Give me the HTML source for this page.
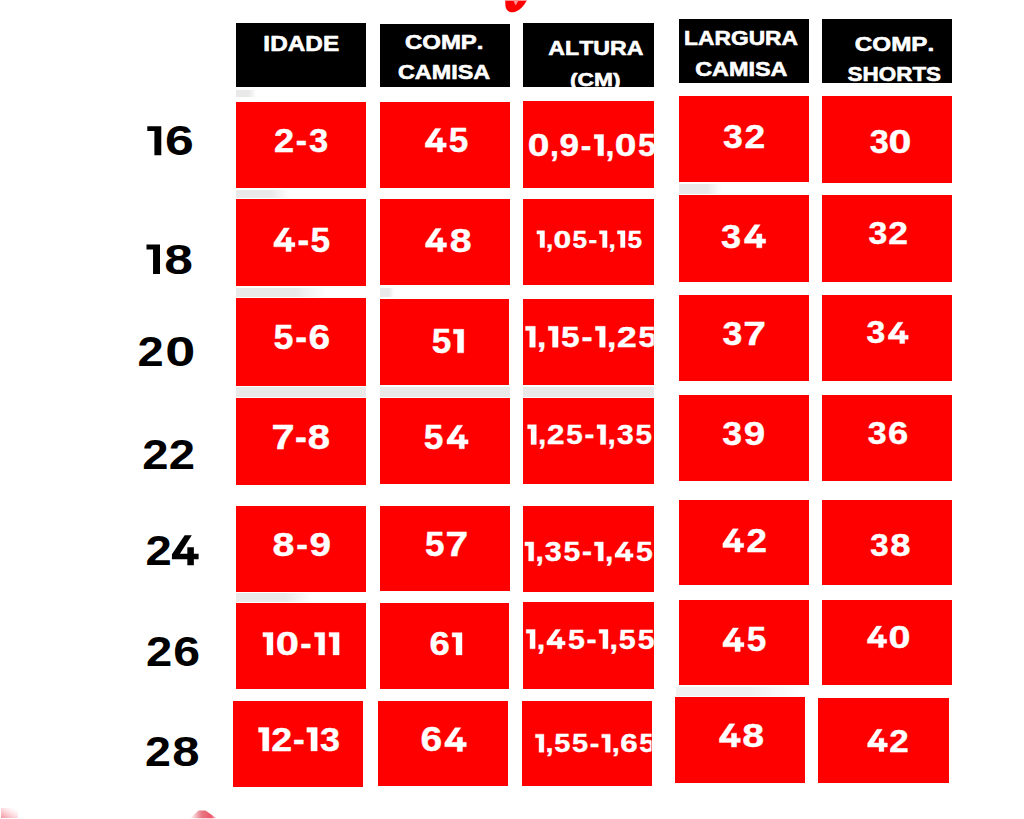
<!DOCTYPE html>
<html><head><meta charset="utf-8"><title>Tabela de medidas</title>
<style>
html,body{margin:0;padding:0;background:#fff;}
body{width:1024px;height:819px;position:relative;overflow:hidden;font-family:"Liberation Sans",sans-serif;}
.b{position:absolute;}
.g{position:absolute;filter:blur(0.5px);}
svg{position:absolute;left:0;top:0;}
text{font-family:"Liberation Sans",sans-serif;font-weight:bold;font-kerning:none;font-variant-ligatures:none;}
</style></head><body>

<div class="g" style="left:236px;top:387.2px;width:130.0px;height:9.6px;background:#e9e9e9;"></div>
<div class="g" style="left:380px;top:387.2px;width:129.5px;height:9.6px;background:#e9e9e9;"></div>
<div class="g" style="left:523.3px;top:387.2px;width:130.5px;height:9.6px;background:#e9e9e9;"></div>
<div class="g" style="left:236px;top:287.5px;width:90.0px;height:9.8px;background:linear-gradient(to right,#e9e9e9 65%,rgba(240,240,240,0));"></div>
<div class="g" style="left:380px;top:288px;width:14.0px;height:9.0px;background:linear-gradient(to right,#e9e9e9 65%,rgba(240,240,240,0));"></div>
<div class="g" style="left:236px;top:189.6px;width:54.0px;height:8.4px;background:linear-gradient(to right,#e9e9e9 65%,rgba(240,240,240,0));"></div>
<div class="g" style="left:236px;top:593px;width:76.0px;height:8.5px;background:linear-gradient(to right,#e9e9e9 65%,rgba(240,240,240,0));"></div>
<div class="g" style="left:236px;top:90px;width:20.0px;height:6.5px;background:linear-gradient(to right,#e9e9e9 65%,rgba(240,240,240,0));"></div>
<div class="g" style="left:679px;top:184.3px;width:43.0px;height:10.1px;background:linear-gradient(to right,#e9e9e9 65%,rgba(240,240,240,0));"></div>
<div class="g" style="left:676px;top:686.5px;width:124.0px;height:9.5px;background:linear-gradient(to right,#f1f1f1 60%,rgba(245,245,245,0));"></div>
<div class="b" style="left:236px;top:23px;width:130.0px;height:64.0px;background:#000;"></div>
<div class="b" style="left:380px;top:23.5px;width:130.0px;height:63.0px;background:#000;"></div>
<div class="b" style="left:523.4px;top:23.4px;width:130.6px;height:63.6px;background:#000;"></div>
<div class="b" style="left:679px;top:19px;width:130.0px;height:63.7px;background:#000;"></div>
<div class="b" style="left:822px;top:19px;width:130.4px;height:64.2px;background:#000;"></div>
<div class="b" style="left:236px;top:101.5px;width:130.3px;height:86.9px;background:#fe0000;"></div>
<div class="b" style="left:380px;top:101.7px;width:130.0px;height:86.0px;background:#fe0000;"></div>
<div class="b" style="left:523.4px;top:101.3px;width:130.6px;height:86.4px;background:#fe0000;"></div>
<div class="b" style="left:679px;top:96.2px;width:130.0px;height:86.3px;background:#fe0000;"></div>
<div class="b" style="left:822px;top:96px;width:130.4px;height:86.5px;background:#fe0000;"></div>
<div class="b" style="left:236px;top:199.2px;width:130.3px;height:86.4px;background:#fe0000;"></div>
<div class="b" style="left:380px;top:199px;width:129.5px;height:85.6px;background:#fe0000;"></div>
<div class="b" style="left:523.3px;top:199px;width:130.5px;height:85.6px;background:#fe0000;"></div>
<div class="b" style="left:679px;top:195.2px;width:130.0px;height:86.5px;background:#fe0000;"></div>
<div class="b" style="left:822px;top:195.2px;width:130.4px;height:86.5px;background:#fe0000;"></div>
<div class="b" style="left:235.7px;top:298.2px;width:130.3px;height:87.8px;background:#fe0000;"></div>
<div class="b" style="left:380px;top:299px;width:129.4px;height:85.6px;background:#fe0000;"></div>
<div class="b" style="left:523.3px;top:299px;width:130.5px;height:85.6px;background:#fe0000;"></div>
<div class="b" style="left:679px;top:294.6px;width:130.0px;height:86.4px;background:#fe0000;"></div>
<div class="b" style="left:822px;top:294.6px;width:130.4px;height:86.4px;background:#fe0000;"></div>
<div class="b" style="left:235.7px;top:397.6px;width:130.3px;height:87.0px;background:#fe0000;"></div>
<div class="b" style="left:380px;top:397.6px;width:130.0px;height:86.4px;background:#fe0000;"></div>
<div class="b" style="left:523.3px;top:397.6px;width:130.5px;height:86.4px;background:#fe0000;"></div>
<div class="b" style="left:679px;top:394.6px;width:130.4px;height:86.4px;background:#fe0000;"></div>
<div class="b" style="left:822px;top:394.6px;width:130.4px;height:86.4px;background:#fe0000;"></div>
<div class="b" style="left:235.7px;top:505.5px;width:130.3px;height:86.5px;background:#fe0000;"></div>
<div class="b" style="left:380px;top:505.6px;width:130.0px;height:85.6px;background:#fe0000;"></div>
<div class="b" style="left:523.3px;top:505.6px;width:130.5px;height:86.6px;background:#fe0000;"></div>
<div class="b" style="left:679px;top:499.9px;width:130.4px;height:85.6px;background:#fe0000;"></div>
<div class="b" style="left:822px;top:499.9px;width:130.4px;height:85.6px;background:#fe0000;"></div>
<div class="b" style="left:235.7px;top:603.2px;width:130.3px;height:85.8px;background:#fe0000;"></div>
<div class="b" style="left:380px;top:603.3px;width:129.4px;height:85.3px;background:#fe0000;"></div>
<div class="b" style="left:523.3px;top:602.3px;width:130.5px;height:86.3px;background:#fe0000;"></div>
<div class="b" style="left:679px;top:599.9px;width:129.8px;height:85.6px;background:#fe0000;"></div>
<div class="b" style="left:822px;top:599.9px;width:130.4px;height:85.6px;background:#fe0000;"></div>
<div class="b" style="left:232.8px;top:701.1px;width:129.8px;height:85.9px;background:#fe0000;"></div>
<div class="b" style="left:378.3px;top:700.6px;width:129.4px;height:85.7px;background:#fe0000;"></div>
<div class="b" style="left:522px;top:700.6px;width:129.5px;height:85.7px;background:#fe0000;"></div>
<div class="b" style="left:674.6px;top:696.7px;width:130.4px;height:86.4px;background:#fe0000;"></div>
<div class="b" style="left:818.2px;top:697.6px;width:130.4px;height:85.5px;background:#fe0000;"></div>
<svg width="1024" height="819" viewBox="0 0 1024 819">
<defs>
<clipPath id="c0"><rect x="523.4" y="101.3" width="130.6" height="86.4"/></clipPath>
<clipPath id="c1"><rect x="523.3" y="199" width="130.5" height="85.6"/></clipPath>
<clipPath id="c2"><rect x="523.3" y="299" width="130.5" height="85.6"/></clipPath>
<clipPath id="c3"><rect x="523.3" y="397.6" width="130.5" height="86.4"/></clipPath>
<clipPath id="c4"><rect x="523.3" y="505.6" width="130.5" height="86.6"/></clipPath>
<clipPath id="c5"><rect x="523.3" y="602.3" width="130.5" height="86.3"/></clipPath>
<clipPath id="c6"><rect x="522" y="700.6" width="129.5" height="85.7"/></clipPath>
<clipPath id="ch"><rect x="523.4" y="23.4" width="130.6" height="63.6"/></clipPath>
<linearGradient id="gl" x1="0" y1="1" x2="1" y2="0"><stop offset="0" stop-color="#f07080" stop-opacity="0.75"/><stop offset="0.7" stop-color="#f8a0a8" stop-opacity="0.15"/><stop offset="1" stop-color="#ffffff" stop-opacity="0"/></linearGradient><linearGradient id="gr" x1="0" x2="1"><stop offset="0" stop-color="#e04858" stop-opacity="0"/><stop offset="0.45" stop-color="#e04858" stop-opacity="0.75"/><stop offset="0.8" stop-color="#e83850" stop-opacity="0.85"/><stop offset="1" stop-color="#e83850" stop-opacity="0.2"/></linearGradient>
</defs>
<path d="M505.3 0.8 L526.6 0.8 C524 5.5 519.5 11.6 513 12.2 C507.8 12.6 505.8 9.5 505.4 5.5 Z" fill="#fe0000"/>
<path d="M513.4 0.8 L518.4 0.8 L515.6 5.6 Z" fill="#ff9090"/>
<rect x="505" y="0" width="22" height="0.9" fill="#ff8f8f"/>
<rect x="1" y="808" width="17" height="10" fill="url(#gl)"/>
<path d="M190 818.3 L198.5 810.6 L205.5 810.4 L216.5 818.3 Z" fill="url(#gr)"/>
<g><text transform="translate(263.37 51.10) scale(1.1322 1)" font-size="21.51" fill="#fff" stroke="#fff" stroke-width="0.6" stroke-linejoin="round">IDADE</text></g>
<g><text transform="translate(404.92 49.01) scale(1.2220 1)" font-size="19.63" fill="#fff" stroke="#fff" stroke-width="0.6" stroke-linejoin="round">COMP.</text></g>
<g><text transform="translate(397.94 79.11) scale(1.1831 1)" font-size="19.77" fill="#fff" stroke="#fff" stroke-width="0.6" stroke-linejoin="round">CAMISA</text></g>
<g><text transform="translate(548.32 54.70) scale(1.1209 1)" font-size="20.64" fill="#fff" stroke="#fff" stroke-width="0.6" stroke-linejoin="round">ALTURA</text></g>
<g clip-path="url(#ch)"><text transform="translate(569.96 86.12) scale(1.2236 1)" font-size="18.64" fill="#fff" stroke="#fff" stroke-width="0.6" stroke-linejoin="round">(CM)</text></g>
<g><text transform="translate(684.07 45.00) scale(1.1214 1)" font-size="20.34" fill="#fff" stroke="#fff" stroke-width="0.6" stroke-linejoin="round">LARGURA</text></g>
<g><text transform="translate(695.14 75.51) scale(1.2016 1)" font-size="19.49" fill="#fff" stroke="#fff" stroke-width="0.6" stroke-linejoin="round">CAMISA</text></g>
<g><text transform="translate(854.81 51.10) scale(1.1756 1)" font-size="20.62" fill="#fff" stroke="#fff" stroke-width="0.6" stroke-linejoin="round">COMP.</text></g>
<g><text transform="translate(847.55 81.00) scale(1.0884 1)" font-size="20.62" fill="#fff" stroke="#fff" stroke-width="0.6" stroke-linejoin="round">SHORTS</text></g>
<g><text transform="translate(274.05 151.63) scale(1.1052 1)" font-size="32.70" fill="#fff" stroke="#fff" stroke-width="0.4" stroke-linejoin="round">2</text><text transform="translate(295.65 151.63) scale(1.0339 1)" font-size="32.70" fill="#fff" stroke="#fff" stroke-width="0.4" stroke-linejoin="round">-</text><text transform="translate(309.04 151.63) scale(1.0562 1)" font-size="32.70" fill="#fff" stroke="#fff" stroke-width="0.4" stroke-linejoin="round">3</text></g>
<g><path d="M435.25 128.40 L440.86 128.40 L431.51 142.89 L437.35 142.89 L437.35 137.83 L442.49 137.83 L442.49 142.89 L446.23 142.89 L446.23 147.25 L442.49 147.25 L442.49 151.97 L437.35 151.97 L437.35 147.25 L425.20 147.25 L425.20 143.25 Z" fill="#fff" stroke="#fff" stroke-width="0.4" stroke-linejoin="round"/><text transform="translate(448.67 151.97) scale(1.0237 1)" font-size="34.25" fill="#fff" stroke="#fff" stroke-width="0.4" stroke-linejoin="round">5</text></g>
<g clip-path="url(#c0)"><text transform="translate(527.86 155.70) scale(1.2658 1)" font-size="30.79" fill="#fff" stroke="#fff" stroke-width="0.4" stroke-linejoin="round">0</text><text transform="translate(549.91 155.70) scale(1.0396 1)" font-size="30.79" fill="#fff" stroke="#fff" stroke-width="0.4" stroke-linejoin="round">,</text><text transform="translate(559.58 155.70) scale(1.1405 1)" font-size="30.79" fill="#fff" stroke="#fff" stroke-width="0.4" stroke-linejoin="round">9</text><text transform="translate(580.71 155.70) scale(1.0321 1)" font-size="30.79" fill="#fff" stroke="#fff" stroke-width="0.4" stroke-linejoin="round">-</text><path d="M594.16 134.52H603.54V155.70H597.87V138.66H594.16Z" fill="#fff" stroke="#fff" stroke-width="0.4" stroke-linejoin="round"/><text transform="translate(605.51 155.70) scale(1.0396 1)" font-size="30.79" fill="#fff" stroke="#fff" stroke-width="0.4" stroke-linejoin="round">,</text><text transform="translate(614.86 155.70) scale(1.2658 1)" font-size="30.79" fill="#fff" stroke="#fff" stroke-width="0.4" stroke-linejoin="round">0</text><text transform="translate(638.10 155.70) scale(1.0391 1)" font-size="30.79" fill="#fff" stroke="#fff" stroke-width="0.4" stroke-linejoin="round">5</text></g>
<g><text transform="translate(723.08 148.42) scale(1.0562 1)" font-size="33.69" fill="#fff" stroke="#fff" stroke-width="0.4" stroke-linejoin="round">3</text><text transform="translate(744.38 148.42) scale(1.1052 1)" font-size="33.69" fill="#fff" stroke="#fff" stroke-width="0.4" stroke-linejoin="round">2</text></g>
<g><text transform="translate(869.71 152.54) scale(1.0562 1)" font-size="32.42" fill="#fff" stroke="#fff" stroke-width="0.4" stroke-linejoin="round">3</text><text transform="translate(888.42 152.54) scale(1.2680 1)" font-size="32.42" fill="#fff" stroke="#fff" stroke-width="0.4" stroke-linejoin="round">0</text></g>
<g><path d="M283.89 227.90 L289.52 227.90 L280.14 242.45 L286.00 242.45 L286.00 237.37 L291.17 237.37 L291.17 242.45 L294.92 242.45 L294.92 246.83 L291.17 246.83 L291.17 251.56 L286.00 251.56 L286.00 246.83 L273.80 246.83 L273.80 242.81 Z" fill="#fff" stroke="#fff" stroke-width="0.4" stroke-linejoin="round"/><text transform="translate(297.44 251.56) scale(1.0168 1)" font-size="34.40" fill="#fff" stroke="#fff" stroke-width="0.4" stroke-linejoin="round">-</text><text transform="translate(310.50 251.56) scale(1.0237 1)" font-size="34.40" fill="#fff" stroke="#fff" stroke-width="0.4" stroke-linejoin="round">5</text></g>
<g><path d="M435.57 228.55 L441.18 228.55 L431.82 242.83 L437.67 242.83 L437.67 237.84 L442.82 237.84 L442.82 242.83 L446.57 242.83 L446.57 247.13 L442.82 247.13 L442.82 251.77 L437.67 251.77 L437.67 247.13 L425.50 247.13 L425.50 243.18 Z" fill="#fff" stroke="#fff" stroke-width="0.4" stroke-linejoin="round"/><text transform="translate(449.86 251.77) scale(1.1637 1)" font-size="33.76" fill="#fff" stroke="#fff" stroke-width="0.4" stroke-linejoin="round">8</text></g>
<g clip-path="url(#c1)"><path d="M536.90 230.75H544.55V247.56H540.05V234.04H536.90Z" fill="#fff" stroke="#fff" stroke-width="0.4" stroke-linejoin="round"/><text transform="translate(546.06 247.56) scale(1.0688 1)" font-size="24.43" fill="#fff" stroke="#fff" stroke-width="0.4" stroke-linejoin="round">,</text><text transform="translate(553.60 247.56) scale(1.3013 1)" font-size="24.43" fill="#fff" stroke="#fff" stroke-width="0.4" stroke-linejoin="round">0</text><text transform="translate(572.47 247.56) scale(1.0683 1)" font-size="24.43" fill="#fff" stroke="#fff" stroke-width="0.4" stroke-linejoin="round">5</text><text transform="translate(588.53 247.56) scale(1.0610 1)" font-size="24.43" fill="#fff" stroke="#fff" stroke-width="0.4" stroke-linejoin="round">-</text><path d="M599.41 230.75H607.06V247.56H602.57V234.04H599.41Z" fill="#fff" stroke="#fff" stroke-width="0.4" stroke-linejoin="round"/><text transform="translate(608.58 247.56) scale(1.0688 1)" font-size="24.43" fill="#fff" stroke="#fff" stroke-width="0.4" stroke-linejoin="round">,</text><path d="M617.38 230.75H625.03V247.56H620.53V234.04H617.38Z" fill="#fff" stroke="#fff" stroke-width="0.4" stroke-linejoin="round"/><text transform="translate(627.51 247.56) scale(1.0683 1)" font-size="24.43" fill="#fff" stroke="#fff" stroke-width="0.4" stroke-linejoin="round">5</text></g>
<g><text transform="translate(721.07 247.82) scale(1.0710 1)" font-size="33.69" fill="#fff" stroke="#fff" stroke-width="0.4" stroke-linejoin="round">3</text><path d="M754.56 224.65 L760.25 224.65 L750.77 238.90 L756.70 238.90 L756.70 233.92 L761.91 233.92 L761.91 238.90 L765.70 238.90 L765.70 243.19 L761.91 243.19 L761.91 247.82 L756.70 247.82 L756.70 243.19 L744.37 243.19 L744.37 239.25 Z" fill="#fff" stroke="#fff" stroke-width="0.4" stroke-linejoin="round"/></g>
<g><text transform="translate(868.52 244.24) scale(1.0562 1)" font-size="32.00" fill="#fff" stroke="#fff" stroke-width="0.4" stroke-linejoin="round">3</text><text transform="translate(888.15 244.24) scale(1.1052 1)" font-size="32.00" fill="#fff" stroke="#fff" stroke-width="0.4" stroke-linejoin="round">2</text></g>
<g><text transform="translate(273.50 349.36) scale(1.0388 1)" font-size="34.46" fill="#fff" stroke="#fff" stroke-width="0.4" stroke-linejoin="round">5</text><text transform="translate(295.31 349.36) scale(1.0317 1)" font-size="34.46" fill="#fff" stroke="#fff" stroke-width="0.4" stroke-linejoin="round">-</text><text transform="translate(308.59 349.36) scale(1.1278 1)" font-size="34.46" fill="#fff" stroke="#fff" stroke-width="0.4" stroke-linejoin="round">6</text></g>
<g><text transform="translate(431.72 352.87) scale(1.0237 1)" font-size="34.25" fill="#fff" stroke="#fff" stroke-width="0.4" stroke-linejoin="round">5</text><path d="M453.42 329.30H463.70V352.87H457.49V333.84H453.42Z" fill="#fff" stroke="#fff" stroke-width="0.4" stroke-linejoin="round"/></g>
<g clip-path="url(#c2)"><path d="M525.50 326.31H535.30V347.20H529.71V330.40H525.50Z" fill="#fff" stroke="#fff" stroke-width="0.4" stroke-linejoin="round"/><text transform="translate(537.12 347.20) scale(1.1022 1)" font-size="30.37" fill="#fff" stroke="#fff" stroke-width="0.4" stroke-linejoin="round">,</text><path d="M548.26 326.31H558.07V347.20H552.48V330.40H548.26Z" fill="#fff" stroke="#fff" stroke-width="0.4" stroke-linejoin="round"/><text transform="translate(561.12 347.20) scale(1.1017 1)" font-size="30.37" fill="#fff" stroke="#fff" stroke-width="0.4" stroke-linejoin="round">5</text><text transform="translate(581.59 347.20) scale(1.0942 1)" font-size="30.37" fill="#fff" stroke="#fff" stroke-width="0.4" stroke-linejoin="round">-</text><path d="M595.41 326.31H605.21V347.20H599.62V330.40H595.41Z" fill="#fff" stroke="#fff" stroke-width="0.4" stroke-linejoin="round"/><text transform="translate(607.02 347.20) scale(1.1022 1)" font-size="30.37" fill="#fff" stroke="#fff" stroke-width="0.4" stroke-linejoin="round">,</text><text transform="translate(616.94 347.20) scale(1.1697 1)" font-size="30.37" fill="#fff" stroke="#fff" stroke-width="0.4" stroke-linejoin="round">2</text><text transform="translate(638.33 347.20) scale(1.1017 1)" font-size="30.37" fill="#fff" stroke="#fff" stroke-width="0.4" stroke-linejoin="round">5</text></g>
<g><text transform="translate(722.38 345.42) scale(1.0562 1)" font-size="33.69" fill="#fff" stroke="#fff" stroke-width="0.4" stroke-linejoin="round">3</text><text transform="translate(743.23 345.42) scale(1.2096 1)" font-size="33.69" fill="#fff" stroke="#fff" stroke-width="0.4" stroke-linejoin="round">7</text></g>
<g><text transform="translate(866.53 343.45) scale(1.0937 1)" font-size="30.87" fill="#fff" stroke="#fff" stroke-width="0.4" stroke-linejoin="round">3</text><path d="M897.78 322.22 L903.10 322.22 L894.23 335.28 L899.77 335.28 L899.77 330.71 L904.65 330.71 L904.65 335.28 L908.20 335.28 L908.20 339.21 L904.65 339.21 L904.65 343.45 L899.77 343.45 L899.77 339.21 L888.24 339.21 L888.24 335.60 Z" fill="#fff" stroke="#fff" stroke-width="0.4" stroke-linejoin="round"/></g>
<g><text transform="translate(271.61 448.96) scale(1.2071 1)" font-size="34.46" fill="#fff" stroke="#fff" stroke-width="0.4" stroke-linejoin="round">7</text><text transform="translate(295.08 448.96) scale(1.0317 1)" font-size="34.46" fill="#fff" stroke="#fff" stroke-width="0.4" stroke-linejoin="round">-</text><text transform="translate(307.77 448.96) scale(1.1617 1)" font-size="34.46" fill="#fff" stroke="#fff" stroke-width="0.4" stroke-linejoin="round">8</text></g>
<g><text transform="translate(423.82 448.77) scale(1.0285 1)" font-size="34.25" fill="#fff" stroke="#fff" stroke-width="0.4" stroke-linejoin="round">5</text><path d="M457.07 425.20 L462.70 425.20 L453.31 439.69 L459.18 439.69 L459.18 434.63 L464.34 434.63 L464.34 439.69 L468.10 439.69 L468.10 444.05 L464.34 444.05 L464.34 448.77 L459.18 448.77 L459.18 444.05 L446.97 444.05 L446.97 440.05 Z" fill="#fff" stroke="#fff" stroke-width="0.4" stroke-linejoin="round"/></g>
<g clip-path="url(#c3)"><path d="M527.60 424.79H536.29V444.38H531.03V428.63H527.60Z" fill="#fff" stroke="#fff" stroke-width="0.4" stroke-linejoin="round"/><text transform="translate(538.10 444.38) scale(1.0414 1)" font-size="28.47" fill="#fff" stroke="#fff" stroke-width="0.4" stroke-linejoin="round">,</text><text transform="translate(547.08 444.38) scale(1.1052 1)" font-size="28.47" fill="#fff" stroke="#fff" stroke-width="0.4" stroke-linejoin="round">2</text><text transform="translate(566.23 444.38) scale(1.0409 1)" font-size="28.47" fill="#fff" stroke="#fff" stroke-width="0.4" stroke-linejoin="round">5</text><text transform="translate(584.56 444.38) scale(1.0339 1)" font-size="28.47" fill="#fff" stroke="#fff" stroke-width="0.4" stroke-linejoin="round">-</text><path d="M597.01 424.79H605.70V444.38H600.44V428.63H597.01Z" fill="#fff" stroke="#fff" stroke-width="0.4" stroke-linejoin="round"/><text transform="translate(607.51 444.38) scale(1.0414 1)" font-size="28.47" fill="#fff" stroke="#fff" stroke-width="0.4" stroke-linejoin="round">,</text><text transform="translate(616.89 444.38) scale(1.0562 1)" font-size="28.47" fill="#fff" stroke="#fff" stroke-width="0.4" stroke-linejoin="round">3</text><text transform="translate(635.44 444.38) scale(1.0409 1)" font-size="28.47" fill="#fff" stroke="#fff" stroke-width="0.4" stroke-linejoin="round">5</text></g>
<g><text transform="translate(722.28 444.82) scale(1.0562 1)" font-size="33.69" fill="#fff" stroke="#fff" stroke-width="0.4" stroke-linejoin="round">3</text><text transform="translate(743.72 444.82) scale(1.1425 1)" font-size="33.69" fill="#fff" stroke="#fff" stroke-width="0.4" stroke-linejoin="round">9</text></g>
<g><text transform="translate(867.72 443.74) scale(1.0562 1)" font-size="32.14" fill="#fff" stroke="#fff" stroke-width="0.4" stroke-linejoin="round">3</text><text transform="translate(888.11 443.74) scale(1.1301 1)" font-size="32.14" fill="#fff" stroke="#fff" stroke-width="0.4" stroke-linejoin="round">6</text></g>
<g><text transform="translate(272.55 555.97) scale(1.1617 1)" font-size="33.90" fill="#fff" stroke="#fff" stroke-width="0.4" stroke-linejoin="round">8</text><text transform="translate(296.25 555.97) scale(1.0317 1)" font-size="33.90" fill="#fff" stroke="#fff" stroke-width="0.4" stroke-linejoin="round">-</text><text transform="translate(309.54 555.97) scale(1.1401 1)" font-size="33.90" fill="#fff" stroke="#fff" stroke-width="0.4" stroke-linejoin="round">9</text></g>
<g><text transform="translate(425.02 555.77) scale(1.0237 1)" font-size="34.25" fill="#fff" stroke="#fff" stroke-width="0.4" stroke-linejoin="round">5</text><text transform="translate(445.53 555.77) scale(1.1896 1)" font-size="34.25" fill="#fff" stroke="#fff" stroke-width="0.4" stroke-linejoin="round">7</text></g>
<g clip-path="url(#c4)"><path d="M524.90 541.98H533.73V560.99H528.63V545.71H524.90Z" fill="#fff" stroke="#fff" stroke-width="0.4" stroke-linejoin="round"/><text transform="translate(535.41 560.99) scale(1.0908 1)" font-size="27.63" fill="#fff" stroke="#fff" stroke-width="0.4" stroke-linejoin="round">,</text><text transform="translate(544.79 560.99) scale(1.1063 1)" font-size="27.63" fill="#fff" stroke="#fff" stroke-width="0.4" stroke-linejoin="round">3</text><text transform="translate(563.48 560.99) scale(1.0903 1)" font-size="27.63" fill="#fff" stroke="#fff" stroke-width="0.4" stroke-linejoin="round">5</text><text transform="translate(581.95 560.99) scale(1.0829 1)" font-size="27.63" fill="#fff" stroke="#fff" stroke-width="0.4" stroke-linejoin="round">-</text><path d="M594.43 541.98H603.26V560.99H598.17V545.71H594.43Z" fill="#fff" stroke="#fff" stroke-width="0.4" stroke-linejoin="round"/><text transform="translate(604.94 560.99) scale(1.0908 1)" font-size="27.63" fill="#fff" stroke="#fff" stroke-width="0.4" stroke-linejoin="round">,</text><path d="M623.65 541.98 L628.47 541.98 L620.44 553.67 L625.46 553.67 L625.46 549.59 L629.88 549.59 L629.88 553.67 L633.09 553.67 L633.09 557.19 L629.88 557.19 L629.88 560.99 L625.46 560.99 L625.46 557.19 L615.02 557.19 L615.02 553.96 Z" fill="#fff" stroke="#fff" stroke-width="0.4" stroke-linejoin="round"/><text transform="translate(635.89 560.99) scale(1.0903 1)" font-size="27.63" fill="#fff" stroke="#fff" stroke-width="0.4" stroke-linejoin="round">5</text></g>
<g><path d="M732.82 528.85 L738.36 528.85 L729.13 543.15 L734.90 543.15 L734.90 538.15 L739.98 538.15 L739.98 543.15 L743.67 543.15 L743.67 547.45 L739.98 547.45 L739.98 552.10 L734.90 552.10 L734.90 547.45 L722.90 547.45 L722.90 543.50 Z" fill="#fff" stroke="#fff" stroke-width="0.4" stroke-linejoin="round"/><text transform="translate(746.53 552.10) scale(1.0877 1)" font-size="33.80" fill="#fff" stroke="#fff" stroke-width="0.4" stroke-linejoin="round">2</text></g>
<g><text transform="translate(870.24 556.15) scale(1.0562 1)" font-size="31.29" fill="#fff" stroke="#fff" stroke-width="0.4" stroke-linejoin="round">3</text><text transform="translate(890.16 556.15) scale(1.1641 1)" font-size="31.29" fill="#fff" stroke="#fff" stroke-width="0.4" stroke-linejoin="round">8</text></g>
<g><path d="M262.90 632.43H272.95V654.88H266.94V636.82H262.90Z" fill="#fff" stroke="#fff" stroke-width="0.4" stroke-linejoin="round"/><text transform="translate(275.68 654.88) scale(1.2799 1)" font-size="32.63" fill="#fff" stroke="#fff" stroke-width="0.4" stroke-linejoin="round">0</text><text transform="translate(300.25 654.88) scale(1.0435 1)" font-size="32.63" fill="#fff" stroke="#fff" stroke-width="0.4" stroke-linejoin="round">-</text><path d="M314.62 632.43H324.66V654.88H318.66V636.82H314.62Z" fill="#fff" stroke="#fff" stroke-width="0.4" stroke-linejoin="round"/><path d="M329.05 632.43H339.10V654.88H333.09V636.82H329.05Z" fill="#fff" stroke="#fff" stroke-width="0.4" stroke-linejoin="round"/></g>
<g><text transform="translate(429.56 654.88) scale(1.1278 1)" font-size="32.34" fill="#fff" stroke="#fff" stroke-width="0.4" stroke-linejoin="round">6</text><path d="M452.15 632.63H462.00V654.88H456.05V636.98H452.15Z" fill="#fff" stroke="#fff" stroke-width="0.4" stroke-linejoin="round"/></g>
<g clip-path="url(#c5)"><path d="M526.20 629.50H535.12V648.73H530.05V633.21H526.20Z" fill="#fff" stroke="#fff" stroke-width="0.4" stroke-linejoin="round"/><text transform="translate(536.75 648.73) scale(1.0890 1)" font-size="27.95" fill="#fff" stroke="#fff" stroke-width="0.4" stroke-linejoin="round">,</text><path d="M555.60 629.50 L560.46 629.50 L552.35 641.32 L557.42 641.32 L557.42 637.19 L561.88 637.19 L561.88 641.32 L565.12 641.32 L565.12 644.88 L561.88 644.88 L561.88 648.73 L557.42 648.73 L557.42 644.88 L546.88 644.88 L546.88 641.61 Z" fill="#fff" stroke="#fff" stroke-width="0.4" stroke-linejoin="round"/><text transform="translate(567.89 648.73) scale(1.0885 1)" font-size="27.95" fill="#fff" stroke="#fff" stroke-width="0.4" stroke-linejoin="round">5</text><text transform="translate(586.49 648.73) scale(1.0811 1)" font-size="27.95" fill="#fff" stroke="#fff" stroke-width="0.4" stroke-linejoin="round">-</text><path d="M599.05 629.50H607.96V648.73H602.89V633.21H599.05Z" fill="#fff" stroke="#fff" stroke-width="0.4" stroke-linejoin="round"/><text transform="translate(609.60 648.73) scale(1.0890 1)" font-size="27.95" fill="#fff" stroke="#fff" stroke-width="0.4" stroke-linejoin="round">,</text><text transform="translate(618.79 648.73) scale(1.0885 1)" font-size="27.95" fill="#fff" stroke="#fff" stroke-width="0.4" stroke-linejoin="round">5</text><text transform="translate(637.63 648.73) scale(1.0885 1)" font-size="27.95" fill="#fff" stroke="#fff" stroke-width="0.4" stroke-linejoin="round">5</text></g>
<g><path d="M732.95 627.90 L738.56 627.90 L729.21 642.39 L735.05 642.39 L735.05 637.33 L740.19 637.33 L740.19 642.39 L743.93 642.39 L743.93 646.75 L740.19 646.75 L740.19 651.47 L735.05 651.47 L735.05 646.75 L722.90 646.75 L722.90 642.75 Z" fill="#fff" stroke="#fff" stroke-width="0.4" stroke-linejoin="round"/><text transform="translate(746.67 651.47) scale(1.0237 1)" font-size="34.25" fill="#fff" stroke="#fff" stroke-width="0.4" stroke-linejoin="round">5</text></g>
<g><path d="M876.59 626.12 L881.78 626.12 L873.13 639.33 L878.54 639.33 L878.54 634.71 L883.29 634.71 L883.29 639.33 L886.75 639.33 L886.75 643.30 L883.29 643.30 L883.29 647.60 L878.54 647.60 L878.54 643.30 L867.30 643.30 L867.30 639.65 Z" fill="#fff" stroke="#fff" stroke-width="0.4" stroke-linejoin="round"/><text transform="translate(888.45 647.60) scale(1.2654 1)" font-size="31.21" fill="#fff" stroke="#fff" stroke-width="0.4" stroke-linejoin="round">0</text></g>
<g><path d="M258.50 727.55H268.86V750.92H262.60V732.13H258.50Z" fill="#fff" stroke="#fff" stroke-width="0.4" stroke-linejoin="round"/><text transform="translate(271.22 750.92) scale(1.1052 1)" font-size="33.97" fill="#fff" stroke="#fff" stroke-width="0.4" stroke-linejoin="round">2</text><text transform="translate(292.89 750.92) scale(1.0339 1)" font-size="33.97" fill="#fff" stroke="#fff" stroke-width="0.4" stroke-linejoin="round">-</text><path d="M306.84 727.55H317.20V750.92H310.94V732.13H306.84Z" fill="#fff" stroke="#fff" stroke-width="0.4" stroke-linejoin="round"/><text transform="translate(320.04 750.92) scale(1.0562 1)" font-size="33.97" fill="#fff" stroke="#fff" stroke-width="0.4" stroke-linejoin="round">3</text></g>
<g><text transform="translate(420.47 751.46) scale(1.1278 1)" font-size="34.60" fill="#fff" stroke="#fff" stroke-width="0.4" stroke-linejoin="round">6</text><path d="M455.04 727.65 L460.79 727.65 L451.21 742.30 L457.20 742.30 L457.20 737.18 L462.47 737.18 L462.47 742.30 L466.30 742.30 L466.30 746.70 L462.47 746.70 L462.47 751.46 L457.20 751.46 L457.20 746.70 L444.74 746.70 L444.74 742.65 Z" fill="#fff" stroke="#fff" stroke-width="0.4" stroke-linejoin="round"/></g>
<g clip-path="url(#c6)"><path d="M535.40 734.17H543.87V752.24H539.04V737.70H535.40Z" fill="#fff" stroke="#fff" stroke-width="0.4" stroke-linejoin="round"/><text transform="translate(545.44 752.24) scale(1.1008 1)" font-size="26.27" fill="#fff" stroke="#fff" stroke-width="0.4" stroke-linejoin="round">,</text><text transform="translate(554.19 752.24) scale(1.1003 1)" font-size="26.27" fill="#fff" stroke="#fff" stroke-width="0.4" stroke-linejoin="round">5</text><text transform="translate(572.11 752.24) scale(1.1003 1)" font-size="26.27" fill="#fff" stroke="#fff" stroke-width="0.4" stroke-linejoin="round">5</text><text transform="translate(589.79 752.24) scale(1.0929 1)" font-size="26.27" fill="#fff" stroke="#fff" stroke-width="0.4" stroke-linejoin="round">-</text><path d="M601.73 734.17H610.21V752.24H605.37V737.70H601.73Z" fill="#fff" stroke="#fff" stroke-width="0.4" stroke-linejoin="round"/><text transform="translate(611.78 752.24) scale(1.1008 1)" font-size="26.27" fill="#fff" stroke="#fff" stroke-width="0.4" stroke-linejoin="round">,</text><text transform="translate(620.26 752.24) scale(1.1946 1)" font-size="26.27" fill="#fff" stroke="#fff" stroke-width="0.4" stroke-linejoin="round">6</text><text transform="translate(639.23 752.24) scale(1.1003 1)" font-size="26.27" fill="#fff" stroke="#fff" stroke-width="0.4" stroke-linejoin="round">5</text></g>
<g><path d="M729.35 723.85 L734.96 723.85 L725.61 738.13 L731.45 738.13 L731.45 733.14 L736.59 733.14 L736.59 738.13 L740.33 738.13 L740.33 742.43 L736.59 742.43 L736.59 747.07 L731.45 747.07 L731.45 742.43 L719.30 742.43 L719.30 738.48 Z" fill="#fff" stroke="#fff" stroke-width="0.4" stroke-linejoin="round"/><text transform="translate(742.20 747.07) scale(1.1617 1)" font-size="33.76" fill="#fff" stroke="#fff" stroke-width="0.4" stroke-linejoin="round">8</text></g>
<g><path d="M877.06 729.33 L882.34 729.33 L873.54 742.96 L879.04 742.96 L879.04 738.20 L883.88 738.20 L883.88 742.96 L887.40 742.96 L887.40 747.07 L883.88 747.07 L883.88 751.50 L879.04 751.50 L879.04 747.07 L867.60 747.07 L867.60 743.30 Z" fill="#fff" stroke="#fff" stroke-width="0.4" stroke-linejoin="round"/><text transform="translate(889.21 751.50) scale(1.0877 1)" font-size="32.22" fill="#fff" stroke="#fff" stroke-width="0.4" stroke-linejoin="round">2</text></g>
<g><path d="M147.30 126.13H161.28V155.19H154.40V130.92H147.30Z" fill="#000"/><text transform="translate(165.07 155.19) scale(1.2264 1)" font-size="42.23" fill="#000">6</text></g>
<g><path d="M146.50 244.54H160.00V273.98H153.04V249.39H146.50Z" fill="#000"/><text transform="translate(164.13 273.98) scale(1.2041 1)" font-size="42.80" fill="#000">8</text></g>
<g><text transform="translate(137.47 365.73) scale(1.1059 1)" font-size="42.58" fill="#000">2</text><text transform="translate(165.37 365.73) scale(1.2688 1)" font-size="42.58" fill="#000">0</text></g>
<g><text transform="translate(142.36 469.40) scale(1.0877 1)" font-size="43.39" fill="#000">2</text><text transform="translate(168.84 469.40) scale(1.0877 1)" font-size="43.39" fill="#000">2</text></g>
<g><text transform="translate(145.56 565.20) scale(1.0877 1)" font-size="43.39" fill="#000">2</text><path d="M184.68 535.34 L191.79 535.34 L179.94 553.71 L187.34 553.71 L187.34 547.29 L193.86 547.29 L193.86 553.71 L198.60 553.71 L198.60 559.23 L193.86 559.23 L193.86 565.20 L187.34 565.20 L187.34 559.23 L171.94 559.23 L171.94 554.15 Z" fill="#000"/></g>
<g><text transform="translate(145.97 666.18) scale(1.1029 1)" font-size="42.73" fill="#000">2</text><text transform="translate(173.14 666.18) scale(1.1278 1)" font-size="42.73" fill="#000">6</text></g>
<g><text transform="translate(145.09 765.59) scale(1.1029 1)" font-size="42.23" fill="#000">2</text><text transform="translate(172.22 765.59) scale(1.1617 1)" font-size="42.23" fill="#000">8</text></g>
</svg>
</body></html>
